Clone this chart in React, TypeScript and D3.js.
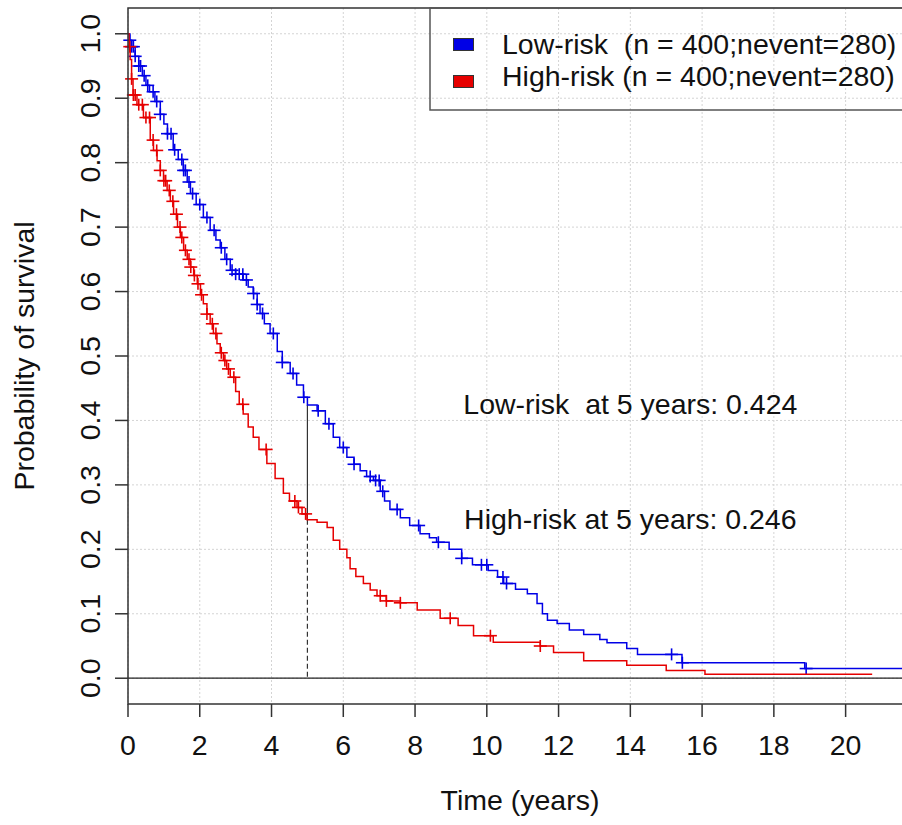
import React from "react";
import * as d3 from "d3";

// ---------- data ----------
const lowTimes = [0, 0.05, 0.1, 0.2, 0.3, 0.4, 0.5, 0.6, 0.75, 0.9, 1.0, 1.1, 1.26, 1.4, 1.54, 1.65, 1.74, 1.9, 2.1, 2.29, 2.45, 2.57, 2.7, 2.85, 3.0, 3.21, 3.35, 3.49, 3.6, 3.68, 3.8, 3.96, 4.16, 4.3, 4.52, 4.7, 4.89, 5.0, 5.27, 5.5, 5.72, 5.9, 6.1, 6.3, 6.47, 6.65, 6.84, 7.03, 7.15, 7.3, 7.59, 7.85, 8.14, 8.4, 8.6, 8.95, 9.3, 9.6, 10.04, 10.3, 10.47, 10.8, 11.13, 11.4, 11.55, 11.69, 11.96, 12.3, 12.7, 13.15, 13.35, 13.9, 14.2, 15.44, 18.86, 21.85];
const lowSurv = [1.0, 0.99, 0.98, 0.965, 0.95, 0.935, 0.92, 0.91, 0.895, 0.875, 0.86, 0.845, 0.82, 0.805, 0.788, 0.77, 0.752, 0.735, 0.715, 0.695, 0.68, 0.668, 0.65, 0.633, 0.627, 0.618, 0.607, 0.597, 0.58, 0.566, 0.55, 0.535, 0.507, 0.49, 0.473, 0.455, 0.436, 0.424, 0.415, 0.395, 0.374, 0.358, 0.343, 0.332, 0.322, 0.313, 0.307, 0.29, 0.275, 0.262, 0.249, 0.237, 0.224, 0.218, 0.211, 0.2, 0.186, 0.176, 0.167, 0.157, 0.147, 0.138, 0.131, 0.116, 0.1, 0.09, 0.085, 0.075, 0.068, 0.06, 0.055, 0.046, 0.037, 0.024, 0.015, 0.015];
const lowCensor = [0.05, 0.1, 0.15, 0.2, 0.3, 0.35, 0.45, 0.55, 0.7, 0.8, 0.9, 1.1, 1.2, 1.3, 1.5, 1.55, 1.6, 1.7, 1.8, 2.0, 2.2, 2.4, 2.6, 2.75, 2.9, 3.0, 3.1, 3.2, 3.3, 3.5, 3.6, 3.75, 4.05, 4.3, 4.6, 4.9, 5.3, 5.6, 6.0, 6.3, 6.75, 6.9, 7.0, 7.1, 7.5, 8.1, 8.65, 9.3, 9.85, 10.0, 10.45, 10.55, 15.15, 15.45, 18.9];

const highTimes = [0, 0.03, 0.06, 0.1, 0.14, 0.25, 0.43, 0.62, 0.71, 0.81, 0.9, 0.99, 1.09, 1.18, 1.27, 1.38, 1.46, 1.55, 1.65, 1.74, 1.83, 1.93, 2.02, 2.1, 2.2, 2.29, 2.38, 2.48, 2.57, 2.66, 2.75, 2.85, 3.0, 3.1, 3.21, 3.35, 3.49, 3.65, 3.87, 4.1, 4.33, 4.5, 4.71, 4.85, 4.99, 5.27, 5.55, 5.72, 5.9, 6.1, 6.19, 6.35, 6.56, 6.75, 6.94, 7.2, 7.59, 8.06, 8.7, 9.2, 9.63, 10.18, 11.49, 11.86, 12.7, 13.9, 15.0, 16.08, 20.74];
const highSurv = [1.0, 0.98, 0.96, 0.93, 0.905, 0.89, 0.87, 0.835, 0.819, 0.803, 0.788, 0.772, 0.757, 0.74, 0.72, 0.7, 0.684, 0.664, 0.65, 0.638, 0.625, 0.612, 0.595, 0.581, 0.565, 0.55, 0.535, 0.519, 0.505, 0.493, 0.48, 0.467, 0.445, 0.425, 0.41, 0.39, 0.374, 0.355, 0.333, 0.31, 0.287, 0.275, 0.265, 0.255, 0.246, 0.242, 0.234, 0.214, 0.2, 0.187, 0.17, 0.158, 0.147, 0.137, 0.128, 0.12, 0.117, 0.106, 0.093, 0.082, 0.066, 0.056, 0.05, 0.04, 0.027, 0.02, 0.012, 0.006, 0.006];
const highCensor = [0.05, 0.1, 0.15, 0.2, 0.3, 0.4, 0.5, 0.6, 0.7, 0.8, 0.9, 1.0, 1.05, 1.15, 1.25, 1.35, 1.45, 1.5, 1.6, 1.7, 1.75, 1.85, 1.95, 2.05, 2.2, 2.35, 2.45, 2.6, 2.7, 2.8, 2.95, 3.2, 3.85, 4.65, 4.75, 4.95, 7.03, 7.2, 7.59, 8.98, 10.1, 11.49];

const xTicks = [0, 2, 4, 6, 8, 10, 12, 14, 16, 18, 20];
const yTicks = [0.0, 0.1, 0.2, 0.3, 0.4, 0.5, 0.6, 0.7, 0.8, 0.9, 1.0];
const groups = ["Low-risk", "High-risk"];
const groupN = [400, 400];
const groupEvents = [280, 280];
const landmarkYear = 5;
const landmarkSurv = [0.424, 0.246];

// ---------- layout ----------
const W = 902;
const H = 825;
const FONT = "'Liberation Sans', Arial, Helvetica, sans-serif";
const FS = 27;
const SX = 1.055; // horizontal stretch of the glyphs
const colors = ["#0000e6", "#e60000"];

const x = d3.scaleLinear().domain([0, 21.85]).range([128, 912]);
const y = d3.scaleLinear().domain([-0.04, 1.04]).range([704, 8]);

function survAt(times: number[], surv: number[], t: number) {
  const i = d3.bisectRight(times, t) - 1;
  return surv[Math.max(0, i)];
}

const line = d3
  .line<[number, number]>()
  .x((d) => x(d[0]))
  .y((d) => y(d[1]))
  .curve(d3.curveStepAfter);

function Label(props: { x: number; y: number; rotate?: number; anchor?: string; size?: number; children: React.ReactNode }) {
  const { x: px, y: py, rotate = 0, anchor = "start", size = FS, children } = props;
  return (
    <g transform={`translate(${px},${py}) rotate(${rotate}) scale(${SX},1)`}>
      <text x={0} y={0} fontSize={size} textAnchor={anchor} fill="#111" style={{ whiteSpace: "pre" }}>
        {children}
      </text>
    </g>
  );
}

export default function App() {
  const series = [
    { times: lowTimes, surv: lowSurv, censor: lowCensor, color: colors[0] },
    { times: highTimes, surv: highSurv, censor: highCensor, color: colors[1] },
  ];
  const legendLabels = [
    `${groups[0]}  (n = ${groupN[0]};nevent=${groupEvents[0]})`,
    `${groups[1]} (n = ${groupN[1]};nevent=${groupEvents[1]})`,
  ];
  const annotLabels = [
    `${groups[0]}  at ${landmarkYear} years: ${landmarkSurv[0].toFixed(3)}`,
    `${groups[1]} at ${landmarkYear} years: ${landmarkSurv[1].toFixed(3)}`,
  ];
  const [x0, x1] = x.range();
  const [yb, yt] = y.range();
  return (
    <svg
      width={W}
      height={H}
      style={{ position: "absolute", left: 0, top: 0, background: "#fff" }}
      fontFamily={FONT}
    >
      <rect x={0} y={0} width={W} height={H} fill="#fff" />
      {/* grid */}
      {xTicks.map((t) => (
        <line key={"gx" + t} x1={x(t)} x2={x(t)} y1={yt} y2={yb} stroke="#d4d4d4" strokeDasharray="2,2" strokeWidth={1} />
      ))}
      {yTicks.map((v) => (
        <line key={"gy" + v} x1={x0} x2={x1} y1={y(v)} y2={y(v)} stroke="#d4d4d4" strokeDasharray="2,2" strokeWidth={1} />
      ))}
      {/* h = 0 line */}
      <line x1={x0} x2={x1} y1={y(0)} y2={y(0)} stroke="#222" strokeWidth={1.3} />
      {/* landmark line */}
      <line x1={x(landmarkYear)} x2={x(landmarkYear)} y1={y(landmarkSurv[0])} y2={y(landmarkSurv[1])} stroke="#333" strokeWidth={1.2} />
      <line x1={x(landmarkYear)} x2={x(landmarkYear)} y1={y(landmarkSurv[1])} y2={y(0)} stroke="#333" strokeWidth={1.2} strokeDasharray="5,3" />
      {/* curves */}
      {series.map((s, i) => (
        <g key={"s" + i}>
          <path d={line(s.times.map((t, j) => [t, s.surv[j]] as [number, number])) || ""} fill="none" stroke={s.color} strokeWidth={1.5} />
          {s.censor.map((t, j) => {
            const cx = x(t);
            const cy = y(survAt(s.times, s.surv, t));
            return (
              <g key={"c" + j} stroke={s.color} strokeWidth={1.6}>
                <line x1={cx - 6.5} x2={cx + 6.5} y1={cy} y2={cy} />
                <line x1={cx} x2={cx} y1={cy - 6} y2={cy + 6} />
              </g>
            );
          })}
        </g>
      ))}
      {/* annotations */}
      {annotLabels.map((lab, i) => (
        <Label key={"a" + i} x={x(14)} y={y(landmarkSurv[i]) + 9.5} anchor="middle">
          {lab}
        </Label>
      ))}
      {/* box */}
      <rect x={x0} y={yt} width={x1 - x0} height={yb - yt} fill="none" stroke="#333" strokeWidth={1.5} />
      {/* x axis ticks */}
      {xTicks.map((t) => (
        <g key={"xt" + t}>
          <line x1={x(t)} x2={x(t)} y1={yb} y2={yb + 13} stroke="#333" strokeWidth={1.5} />
          <Label x={x(t)} y={755} anchor="middle">
            {String(t)}
          </Label>
        </g>
      ))}
      {/* y axis ticks */}
      {yTicks.map((v) => (
        <g key={"yt" + v}>
          <line x1={x0 - 13} x2={x0} y1={y(v)} y2={y(v)} stroke="#333" strokeWidth={1.5} />
          <Label x={100} y={y(v)} rotate={-90} anchor="middle">
            {v.toFixed(1)}
          </Label>
        </g>
      ))}
      {/* axis titles */}
      <Label x={(x0 + x1) / 2} y={810} anchor="middle">
        Time (years)
      </Label>
      <Label x={34} y={(yt + yb) / 2} rotate={-90} anchor="middle">
        Probability of survival
      </Label>
      {/* legend */}
      <rect x={430} y={8} width={520} height={102} fill="none" stroke="#555" strokeWidth={1.5} />
      {legendLabels.map((lab, i) => (
        <g key={"l" + i}>
          <rect x={453.5} y={38.5 + i * 37} width={20} height={12} fill={colors[i]} stroke="#333" strokeWidth={1} />
          <Label x={502} y={53.5 + i * 32}>
            {lab}
          </Label>
        </g>
      ))}
    </svg>
  );
}
